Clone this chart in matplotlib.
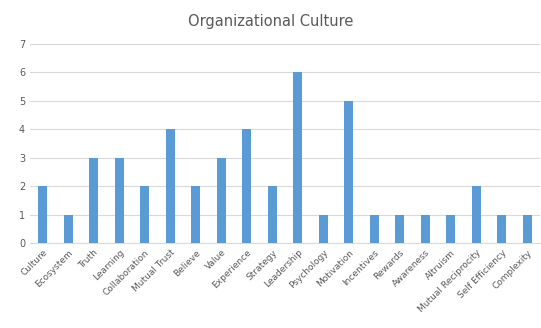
import numpy as np
import matplotlib
matplotlib.use("Agg")
import matplotlib.pyplot as plt

categories = ["Culture", "Ecosystem", "Truth", "Learning", "Collaboration",
              "Mutual Trust", "Believe", "Value", "Experience", "Strategy",
              "Leadership", "Psychology", "Motivation", "Incentives", "Rewards",
              "Awareness", "Altruism", "Mutual Reciprocity", "Self Efficiency",
              "Complexity"]
values = [2, 1, 3, 3, 2, 4, 2, 3, 4, 2, 6, 1, 5, 1, 1, 1, 1, 2, 1, 1]

fig = plt.figure(figsize=(5.41, 3.28), dpi=100)
ax = fig.add_axes([30 / 541, 85 / 328, 510 / 541, 199 / 328])

x = np.arange(len(categories))
ax.bar(x, values, width=0.36, color="#5B9BD5", zorder=3)

ax.set_xlim(-0.5, len(categories) - 0.5)
ax.set_ylim(0, 7)
ax.set_yticks(range(8))
ax.yaxis.grid(True, color="#D9D9D9", linewidth=0.8, zorder=0)
for s in ["top", "right", "left"]:
    ax.spines[s].set_visible(False)
ax.spines["bottom"].set_color("#D9D9D9")
ax.tick_params(axis="both", length=0, labelsize=7, colors="#595959")

ax.set_xticks(x)
ax.set_xticklabels(categories, rotation=45, ha="right", rotation_mode="anchor",
                   fontsize=6.5, color="#595959")

fig.text(0.5, 0.935, "Organizational Culture", ha="center", va="center",
         fontsize=10.5, color="#595959")

fig.savefig("out.png", dpi=100)
